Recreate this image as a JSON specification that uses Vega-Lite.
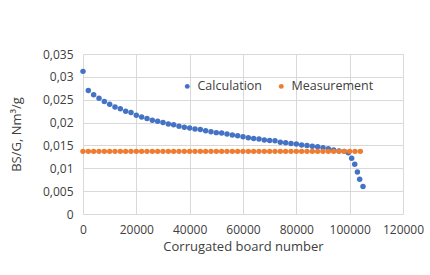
{
  "$schema": "https://vega.github.io/schema/vega-lite/v6.json",
  "width": 320,
  "height": 160,
  "autosize": {"type": "none"},
  "padding": {"left": 83, "top": 54, "right": 27, "bottom": 61},
  "background": "white",
  "datasets": {
    "calc": [
      {"n": 0, "v": 0.0312}, {"n": 2000, "v": 0.0270}, {"n": 4000, "v": 0.0261}, {"n": 6000, "v": 0.0253},
      {"n": 8000, "v": 0.0246}, {"n": 10000, "v": 0.0240}, {"n": 12000, "v": 0.0234}, {"n": 14000, "v": 0.0230},
      {"n": 16000, "v": 0.0225}, {"n": 18000, "v": 0.0222}, {"n": 20000, "v": 0.0216}, {"n": 22000, "v": 0.0212},
      {"n": 24000, "v": 0.0209}, {"n": 26000, "v": 0.0205}, {"n": 28000, "v": 0.0203}, {"n": 30000, "v": 0.0200},
      {"n": 32000, "v": 0.0197}, {"n": 34000, "v": 0.0195}, {"n": 36000, "v": 0.0192}, {"n": 38000, "v": 0.0190},
      {"n": 40000, "v": 0.0188}, {"n": 42000, "v": 0.0186}, {"n": 44000, "v": 0.0185}, {"n": 46000, "v": 0.0182},
      {"n": 48000, "v": 0.0180}, {"n": 50000, "v": 0.0178}, {"n": 52000, "v": 0.0177}, {"n": 54000, "v": 0.0175},
      {"n": 56000, "v": 0.0173}, {"n": 58000, "v": 0.0171}, {"n": 60000, "v": 0.0169}, {"n": 62000, "v": 0.0167},
      {"n": 64000, "v": 0.0165}, {"n": 66000, "v": 0.0164}, {"n": 68000, "v": 0.0162}, {"n": 70000, "v": 0.0161},
      {"n": 72000, "v": 0.0160}, {"n": 74000, "v": 0.0157}, {"n": 76000, "v": 0.0156}, {"n": 78000, "v": 0.0154},
      {"n": 80000, "v": 0.0153}, {"n": 82000, "v": 0.0151}, {"n": 84000, "v": 0.0150}, {"n": 86000, "v": 0.0148},
      {"n": 88000, "v": 0.0147}, {"n": 90000, "v": 0.0145}, {"n": 92000, "v": 0.0143}, {"n": 94000, "v": 0.0140},
      {"n": 96000, "v": 0.0138}, {"n": 98000, "v": 0.0137}, {"n": 99500, "v": 0.0134}, {"n": 100750, "v": 0.0122},
      {"n": 101900, "v": 0.0109}, {"n": 102900, "v": 0.0092}, {"n": 103750, "v": 0.0076}, {"n": 105000, "v": 0.0060}
    ],
    "meas": [
      {"n": 0, "v": 0.0137}, {"n": 2000, "v": 0.0137}, {"n": 4000, "v": 0.0137}, {"n": 6000, "v": 0.0137},
      {"n": 8000, "v": 0.0137}, {"n": 10000, "v": 0.0137}, {"n": 12000, "v": 0.0137}, {"n": 14000, "v": 0.0137},
      {"n": 16000, "v": 0.0137}, {"n": 18000, "v": 0.0137}, {"n": 20000, "v": 0.0137}, {"n": 22000, "v": 0.0137},
      {"n": 24000, "v": 0.0137}, {"n": 26000, "v": 0.0137}, {"n": 28000, "v": 0.0137}, {"n": 30000, "v": 0.0137},
      {"n": 32000, "v": 0.0137}, {"n": 34000, "v": 0.0137}, {"n": 36000, "v": 0.0137}, {"n": 38000, "v": 0.0137},
      {"n": 40000, "v": 0.0137}, {"n": 42000, "v": 0.0137}, {"n": 44000, "v": 0.0137}, {"n": 46000, "v": 0.0137},
      {"n": 48000, "v": 0.0137}, {"n": 50000, "v": 0.0137}, {"n": 52000, "v": 0.0137}, {"n": 54000, "v": 0.0137},
      {"n": 56000, "v": 0.0137}, {"n": 58000, "v": 0.0137}, {"n": 60000, "v": 0.0137}, {"n": 62000, "v": 0.0137},
      {"n": 64000, "v": 0.0137}, {"n": 66000, "v": 0.0137}, {"n": 68000, "v": 0.0137}, {"n": 70000, "v": 0.0137},
      {"n": 72000, "v": 0.0137}, {"n": 74000, "v": 0.0137}, {"n": 76000, "v": 0.0137}, {"n": 78000, "v": 0.0137},
      {"n": 80000, "v": 0.0137}, {"n": 82000, "v": 0.0137}, {"n": 84000, "v": 0.0137}, {"n": 86000, "v": 0.0137},
      {"n": 88000, "v": 0.0137}, {"n": 90000, "v": 0.0137}, {"n": 92000, "v": 0.0137}, {"n": 94000, "v": 0.0137},
      {"n": 96000, "v": 0.0137}, {"n": 98000, "v": 0.0137}, {"n": 100000, "v": 0.0137}, {"n": 102000, "v": 0.0137},
      {"n": 104000, "v": 0.0137}
    ]
  },
  "config": {
    "font": "Open Sans",
    "view": {"stroke": null},
    "axis": {
      "labelColor": "#404040",
      "titleColor": "#404040",
      "labelFontSize": 12,
      "titleFontSize": 13,
      "titleFontWeight": "normal",
      "gridColor": "#d9d9d9",
      "gridWidth": 1,
      "ticks": false,
      "domain": false,
      "labelOverlap": false,
      "labelFlush": false,
      "labelBound": false
    }
  },
  "encoding": {
    "x": {"field": "n", "type": "quantitative", "scale": {"domain": [0, 120000], "nice": false},
      "axis": {"values": [0, 20000, 40000, 60000, 80000, 100000, 120000], "format": "d", "title": "Corrugated board number", "labelPadding": 10, "titlePadding": 5}},
    "y": {"field": "v", "type": "quantitative", "scale": {"domain": [0, 0.035], "nice": false},
      "axis": {"values": [0, 0.005, 0.01, 0.015, 0.02, 0.025, 0.03, 0.035], "labelExpr": "replace(toString(datum.value), '.', ',')", "title": "BS/G, Nm³/g", "labelPadding": 10, "titleX": -60}},
    "color": {"field": "series", "type": "nominal",
      "scale": {"domain": ["Calculation", "Measurement"], "range": ["#4472C4", "#ED7D31"]},
      "legend": {"title": null, "orient": "none", "direction": "horizontal", "legendX": 98, "legendY": 26, "symbolType": "circle", "symbolSize": 24, "labelFontSize": 12.5, "labelColor": "#404040", "columnPadding": 12, "labelOffset": 4}}
  },
  "layer": [
    {
      "data": {"name": "calc"},
      "transform": [{"calculate": "'Calculation'", "as": "series"}],
      "mark": {"type": "circle", "size": 30, "opacity": 1}
    },
    {
      "data": {"name": "meas"},
      "transform": [{"calculate": "'Measurement'", "as": "series"}],
      "mark": {"type": "circle", "size": 30, "opacity": 1}
    }
  ]
}
